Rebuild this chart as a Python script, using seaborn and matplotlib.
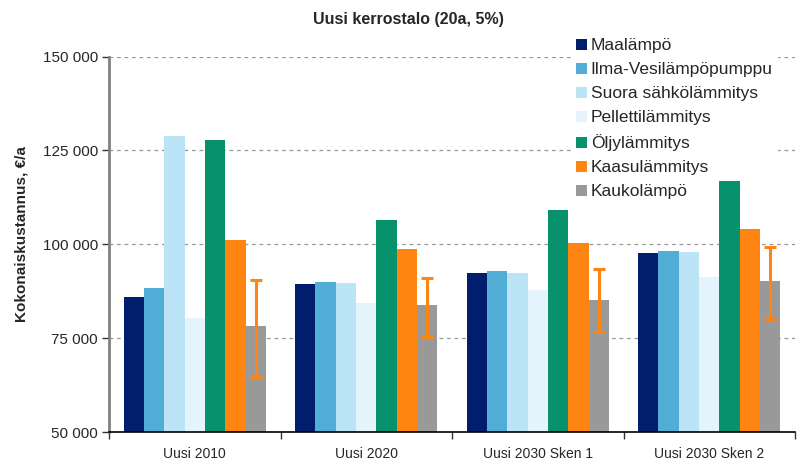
import pandas as pd
import numpy as np
import matplotlib
matplotlib.use('Agg')
import matplotlib.pyplot as plt
import matplotlib.ticker as mticker
from matplotlib.patches import Patch
import seaborn as sns

# Data
groups = ['Uusi 2010', 'Uusi 2020', 'Uusi 2030 Sken 1', 'Uusi 2030 Sken 2']
heating = ['Maalämpö', 'Ilma-Vesilämpöpumppu', 'Suora sähkölämmitys',
           'Pellettilämmitys', 'Öljylämmitys', 'Kaasulämmitys', 'Kaukolämpö']
maalampo = [85900, 89400, 92300, 97600]
ilma_vesi = [88300, 89900, 92800, 98100]
suora_sahko = [128700, 89600, 92300, 97900]
pelletti = [80300, 84300, 87800, 91200]
oljy = [127900, 106400, 109100, 116800]
kaasu = [101100, 98700, 100300, 104000]
kaukolampo = [78200, 83800, 85100, 90200]
kauko_high = [90600, 91000, 93300, 99200]
kauko_low = [64700, 75300, 76500, 80100]

colors = ['#001E6B', '#52ADD6', '#BCE4F7', '#E5F4FC', '#08916D', '#FF8512', '#999999']

series = [maalampo, ilma_vesi, suora_sahko, pelletti, oljy, kaasu, kaukolampo]
rows = []
for name, vals in zip(heating, series):
    for g, v in zip(groups, vals):
        rows.append({'Ryhmä': g, 'Lämmitys': name, 'Kustannus': v})
df = pd.DataFrame(rows)

sns.set_style('white')
plt.rcParams['font.family'] = ['Liberation Sans', 'DejaVu Sans']

fig = plt.figure(figsize=(7.97, 4.61), dpi=100)
ax = fig.add_axes([0.1368, 0.0629, 0.8607, 0.8145])

sns.barplot(data=df, x='Ryhmä', y='Kustannus', hue='Lämmitys', order=groups,
            hue_order=heating, palette=colors, width=0.83, saturation=1,
            errorbar=None, legend=False, ax=ax, linewidth=0)

# bars start at 50 000, so bottom is the axis floor
ax.set_ylim(50000, 150000)
ax.set_xlim(-0.5, len(groups) - 0.5)

# error bars on the district heating bars
kauko_bars = ax.containers[-1]
xs = [b.get_x() + b.get_width() / 2 for b in kauko_bars]
mid = [(h + l) / 2 for h, l in zip(kauko_high, kauko_low)]
half = [(h - l) / 2 for h, l in zip(kauko_high, kauko_low)]
ax.errorbar(xs, mid, yerr=half, fmt='none', ecolor='#FF8512', elinewidth=2.2,
            capsize=4, capthick=2.2, zorder=5)

ax.set_yticks([50000, 75000, 100000, 125000, 150000])
ax.yaxis.set_major_formatter(mticker.FuncFormatter(lambda v, p: f'{int(v):,}'.replace(',', ' ')))
ax.yaxis.grid(True, linestyle=(0, (3, 3)), color='#999999', linewidth=0.9)
ax.set_axisbelow(True)
ax.tick_params(axis='y', which='major', left=True, length=5, width=1, color='#333333',
               labelsize=11, pad=3)

ax.set_xticks(range(len(groups)))
ax.set_xticklabels(groups)
ax.tick_params(axis='x', which='major', bottom=False, labelsize=10, pad=7)
ax.set_xticks(np.arange(-0.5, len(groups)), minor=True)
ax.tick_params(axis='x', which='minor', bottom=True, length=5, width=1, color='#333333')

for s in ['top', 'right']:
    ax.spines[s].set_visible(False)
ax.spines['left'].set_color('#808080')
ax.spines['left'].set_linewidth(2)
ax.spines['bottom'].set_color('black')
ax.spines['bottom'].set_linewidth(1.2)

ax.set_xlabel('')
ax.set_ylabel('Kokonaiskustannus, €/a', fontsize=11, fontweight='bold')
ax.yaxis.set_label_coords(-0.117, 0.527)
fig.suptitle('Uusi kerrostalo (20a, 5%)', fontsize=11.5, fontweight='bold', x=0.513, y=0.975)

handles = [Patch(facecolor=c, edgecolor='none') for c in colors]
leg = ax.legend(handles, heating, loc='upper left', bbox_to_anchor=(0.705, 0.947),
                bbox_transform=fig.transFigure, frameon=True, fancybox=False,
                edgecolor='none', facecolor='white', framealpha=1, fontsize=12.5,
                handlelength=0.63, handleheight=0.63, handletextpad=0.23,
                labelspacing=0.52, borderpad=0.3)
# legend sits over the grid but under the bars, like in the original
leg.set_zorder(0.8)

fig.savefig('out.png', dpi=100)
